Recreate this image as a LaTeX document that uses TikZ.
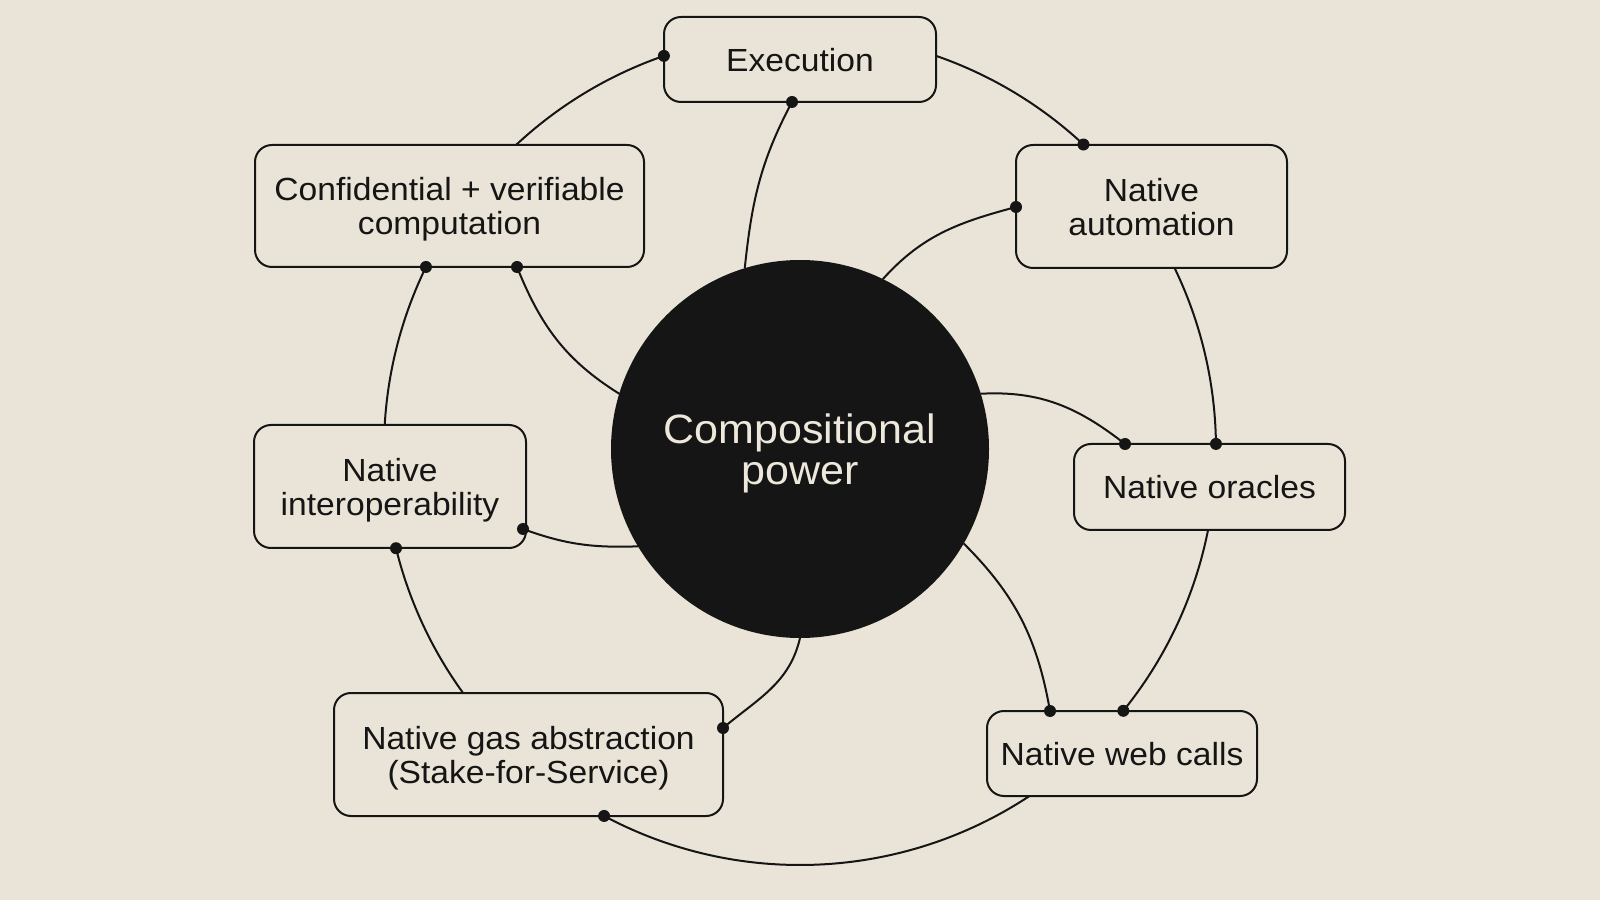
\documentclass[tikz,border=0pt]{standalone}
\usepackage{fontspec}
\setmainfont{Liberation Sans}[FakeStretch=1.05]
\usetikzlibrary{backgrounds,calc}
\definecolor{bgc}{HTML}{E9E4D7}
\definecolor{ink}{HTML}{151515}
\definecolor{cream}{HTML}{EDE8DB}
\begin{document}
\begin{tikzpicture}[x=1pt,y=1pt,
  box/.style={draw=ink, line width=2pt, fill=bgc, rounded corners=17pt, inner sep=0pt, outer sep=0pt,
              align=center, text depth=-4pt, font=\fontsize{32}{34}\selectfont, text=ink},
  hubstyle/.style={circle, fill=ink, minimum size=378pt, inner sep=0pt, outer sep=0pt,
              align=center, text depth=-4pt, font=\fontsize{41}{41}\selectfont, text=cream},
  link/.style={draw=ink, line width=2pt},
  dotc/.style={fill=ink}]
\useasboundingbox (0,0) rectangle (1600,900);

% hub
\node[hubstyle] (hub) at (800,451) {Compositional\\power};

% boxes
\node[box, minimum width=272pt, minimum height=85pt]  (exec) at (800,840.5)   {Execution};
\node[box, minimum width=271pt, minimum height=123pt] (auto) at (1151.5,693.5) {Native\\automation};
\node[box, minimum width=271pt, minimum height=86pt]  (orac) at (1209.5,413)   {Native oracles};
\node[box, minimum width=270pt, minimum height=85pt]  (web)  at (1122,146.5)   {Native web calls};
\node[box, minimum width=389pt, minimum height=123pt] (gas)  at (528.5,145.5)  {Native gas abstraction\\(Stake-for-Service)};
\node[box, minimum width=272pt, minimum height=123pt] (intr) at (390,413.5)    {Native\\interoperability};
\node[box, minimum width=389pt, minimum height=122pt] (conf) at (449.5,694)    {Confidential + verifiable\\computation};

% ring dots (on the outer ring)
\coordinate (rEx) at ($(hub.center)+(109.1:416)$);
\coordinate (rAu) at ($(hub.center)+(47.05:416)$);
\coordinate (rOr) at ($(hub.center)+(0.7:416)$);
\coordinate (rWe) at ($(hub.center)+(-39:416)$);
\coordinate (rGa) at ($(hub.center)+(-118.1:416)$);
\coordinate (rIn) at ($(hub.center)+(193.8:416)$);
\coordinate (rCo) at ($(hub.center)+(154.05:416)$);

% arm dots
\coordinate (dExB) at (792,798);
\coordinate (dAuL) at (1016,693);
\coordinate (dOrA) at (1125,456);
\coordinate (dWeA) at (1050,189);
\coordinate (dGaA) at (723,172);
\coordinate (dInA) at (523,371);
\coordinate (dCoA) at (517,633);

\begin{scope}[on background layer]
  \fill[bgc] (0,0) rectangle (1600,900);
  % outer ring connectors
  \draw[link] (rEx) arc[start angle=109.1, end angle=140, radius=416];
  \draw[link] (rAu) arc[start angle=47.05, end angle=80, radius=416];
  \draw[link] (rOr) arc[start angle=0.7, end angle=35, radius=416];
  \draw[link] (rWe) arc[start angle=-39, end angle=-5, radius=416];
  \draw[link] (rGa) arc[start angle=-118.1, end angle=-48, radius=416];
  \draw[link] (rIn) arc[start angle=193.8, end angle=228, radius=416];
  \draw[link] (rCo) arc[start angle=154.05, end angle=185, radius=416];
  % spiral arms from the hub
  \draw[link] (hub.107.8) to[out=84, in=242] (dExB);
  \draw[link] (hub.64.8)  to[out=48, in=195] (dAuL);
  \draw[link] (hub.17)    to[out=3, in=142]  (dOrA);
  \draw[link] (hub.-30)   to[out=-45, in=100] (dWeA);
  \draw[link] (hub.-90)   to[out=257, in=40] (dGaA);
  \draw[link] (hub.211.4) to[out=182, in=-20] (dInA);
  \draw[link] (hub.163.8) to[out=148, in=-68] (dCoA);
\end{scope}

% dots
\foreach \p in {rEx,rAu,rOr,rWe,rGa,rIn,rCo,dExB,dAuL,dOrA,dWeA,dGaA,dInA,dCoA}
  \fill[dotc] (\p) circle[radius=6];
\end{tikzpicture}
\end{document}
